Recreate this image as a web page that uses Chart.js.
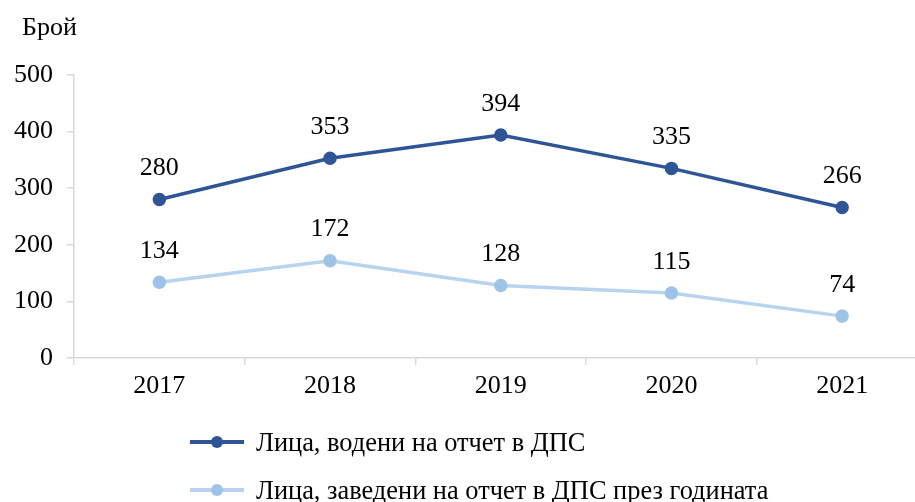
<!DOCTYPE html>
<html>
<head>
<meta charset="utf-8">
<script src="https://cdn.jsdelivr.net/npm/chart.js@4"></script>
<style>
    html, body { margin: 0; padding: 0; background: #fff; overflow: hidden; }
    #wrap { position: relative; width: 936px; height: 502px; }
    #legend { position: absolute; left: 190px; top: 418px; font-family: "Liberation Serif", serif; font-size: 26.4px; color: #000; }
    .lg-row { display: flex; align-items: center; height: 48px; }
    .lg-mark { position: relative; width: 54px; height: 14px; margin-right: 12px; }
    .lg-mark .ln { position: absolute; left: 0; right: 0; top: 5px; height: 4px; }
    .lg-mark .dt { position: absolute; left: 21px; top: 1px; width: 12px; height: 12px; border-radius: 50%; }
</style>
</head>
<body>
<div id="wrap">
    <canvas id="chart" width="936" height="502"></canvas>
    <div id="legend"></div>
</div>
<script>
const years = ['2017', '2018', '2019', '2020', '2021'];
const heldOnRecord = [280, 353, 394, 335, 266];
const newOnRecord = [134, 172, 128, 115, 74];
const seriesNames = ['Лица, водени на отчет в ДПС', 'Лица, заведени на отчет в ДПС през годината'];
const lineColors = ['#2F5597', '#B7D3EE'];
const pointColors = ['#2F5597', '#9DC3E6'];
const yTicks = [0, 100, 200, 300, 400, 500];

const FONT = '"Liberation Serif", "Times New Roman", serif';

// value labels above each point + axis caption
const valueLabels = {
    id: 'valueLabels',
    afterDatasetsDraw(chart) {
        const ctx = chart.ctx;
        ctx.save();
        ctx.font = '26px ' + FONT;
        ctx.fillStyle = '#000';
        ctx.textAlign = 'center';
        ctx.textBaseline = 'middle';
        chart.data.datasets.forEach((ds, i) => {
            chart.getDatasetMeta(i).data.forEach((pt, j) => {
                ctx.fillText(ds.data[j], pt.x, pt.y - 31);
            });
        });
        ctx.textAlign = 'left';
        ctx.fillText('Брой', 22, 28);
        ctx.restore();
    }
};

const chart = new Chart(document.getElementById('chart'), {
    type: 'line',
    data: {
        labels: years,
        datasets: [heldOnRecord, newOnRecord].map((d, i) => ({
            label: seriesNames[i],
            data: d,
            borderColor: lineColors[i],
            backgroundColor: pointColors[i],
            pointBorderColor: pointColors[i],
            pointBackgroundColor: pointColors[i],
            borderWidth: 3.5,
            pointRadius: 5,
            pointHoverRadius: 5,
            tension: 0
        }))
    },
    options: {
        responsive: false,
        animation: false,
        layout: { padding: { top: 75, right: 0, left: 0, bottom: 0 } },
        plugins: {
            legend: { display: false },
            tooltip: { enabled: false }
        },
        scales: {
            x: {
                offset: true,
                grid: { offset: true, drawOnChartArea: false, drawTicks: true, tickLength: 7, color: '#d9d9d9', lineWidth: 1.5 },
                border: { color: '#d9d9d9', width: 1.5 },
                ticks: { color: '#000', font: { family: FONT, size: 26 }, padding: 6 },
                afterFit: (s) => { s.height = 144; }
            },
            y: {
                min: 0,
                max: 500,
                afterBuildTicks: (s) => { s.ticks = yTicks.map(v => ({ value: v })); },
                grid: { drawOnChartArea: false, drawTicks: true, tickLength: 7, color: '#d9d9d9', lineWidth: 1.5 },
                border: { color: '#d9d9d9', width: 1.5 },
                ticks: { color: '#000', font: { family: FONT, size: 26 }, padding: 14 },
                afterFit: (s) => { s.width = 74; }
            }
        }
    },
    plugins: [valueLabels]
});

// legend stacked on the left, like the original
document.getElementById('legend').innerHTML = chart.data.datasets.map(ds => `
    <div class="lg-row">
        <div class="lg-mark">
            <div class="ln" style="background:${ds.borderColor}"></div>
            <div class="dt" style="background:${ds.pointBackgroundColor}"></div>
        </div>
        <span>${ds.label}</span>
    </div>
`).join('');
</script>
</body>
</html>
